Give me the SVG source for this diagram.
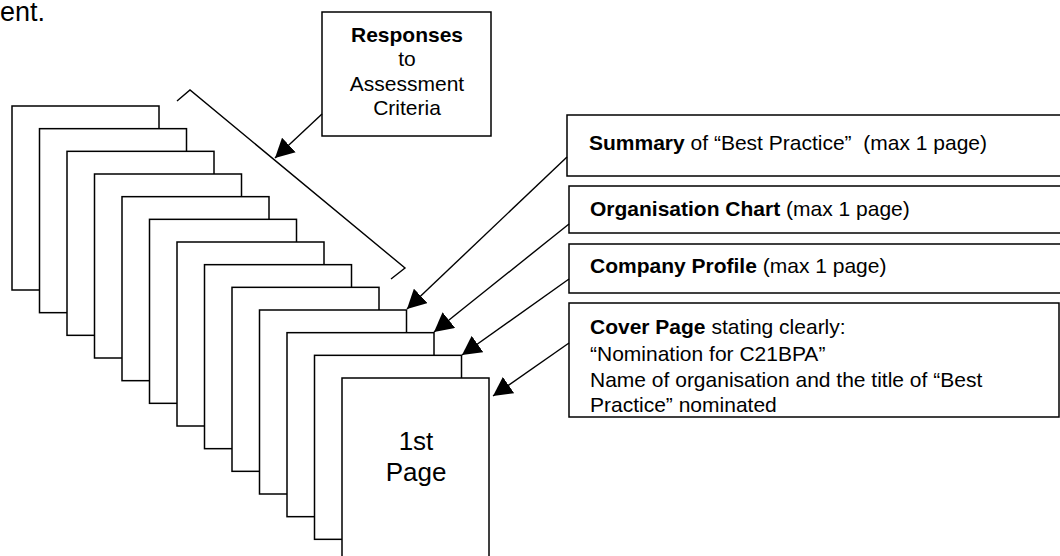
<svg xmlns="http://www.w3.org/2000/svg" width="1060" height="556" viewBox="0 0 1060 556">
<style>
text{font-family:"Liberation Sans",Arial,sans-serif;font-size:21px;fill:#000}
.b{font-weight:bold}
.pg{fill:#fff;stroke:#000;stroke-width:1.5}
.box{fill:#fff;stroke:#000;stroke-width:1.5}
.ln{fill:none;stroke:#000;stroke-width:1.4}
.ar{fill:none;stroke:#000;stroke-width:1.4;marker-end:url(#ah)}
</style>
<defs>
<marker id="ah" markerUnits="userSpaceOnUse" markerWidth="20" markerHeight="20" refX="19" refY="10" orient="auto" viewBox="0 0 20 20">
<path d="M0,0 L19,10 L0,20 z" fill="#000"/>
</marker>
</defs>
<rect width="1060" height="556" fill="#fff"/>
<text x="0" y="21" style="font-size:27px">ent.</text>
<g id="pages">
<rect class="pg" x="12" y="106" width="147" height="184"/>
<rect class="pg" x="39.5" y="128.67" width="147" height="184"/>
<rect class="pg" x="67" y="151.33" width="147" height="184"/>
<rect class="pg" x="94.5" y="174" width="147" height="184"/>
<rect class="pg" x="122" y="196.67" width="147" height="184"/>
<rect class="pg" x="149.5" y="219.33" width="147" height="184"/>
<rect class="pg" x="177" y="242" width="147" height="184"/>
<rect class="pg" x="204.5" y="264.67" width="147" height="184"/>
<rect class="pg" x="232" y="287.33" width="147" height="184"/>
<rect class="pg" x="259.5" y="310" width="147" height="184"/>
<rect class="pg" x="287" y="332.67" width="147" height="184"/>
<rect class="pg" x="314.5" y="355.33" width="147" height="184"/>
</g>
<g id="first-page">
<rect class="pg" x="342" y="378" width="147" height="184"/>
<text x="416" y="450" text-anchor="middle" style="font-size:26px">1st</text>
<text x="416" y="481" text-anchor="middle" style="font-size:26px">Page</text>
</g>
<g id="responses">
<rect class="box" x="322" y="12" width="169" height="124"/>
<text x="407" y="42" text-anchor="middle" class="b">Responses</text>
<text x="407" y="66" text-anchor="middle">to</text>
<text x="407" y="91" text-anchor="middle">Assessment</text>
<text x="407" y="115" text-anchor="middle">Criteria</text>
</g>
<g id="summary">
<rect class="box" x="567" y="115" width="500" height="61"/>
<text x="589" y="150" xml:space="preserve"><tspan class="b">Summary</tspan> of “Best Practice”  (max 1 page)</text>
</g>
<g id="org-chart">
<rect class="box" x="569" y="186" width="500" height="47"/>
<text x="590" y="216"><tspan class="b">Organisation Chart</tspan> (max 1 page)</text>
</g>
<g id="company-profile">
<rect class="box" x="569" y="244" width="500" height="49"/>
<text x="590" y="273"><tspan class="b">Company Profile</tspan> (max 1 page)</text>
</g>
<g id="cover-page">
<rect class="box" x="569" y="303" width="490" height="114"/>
<text x="590" y="334"><tspan class="b">Cover Page</tspan> stating clearly:</text>
<text x="590" y="361">“Nomination for C21BPA”</text>
<text x="590" y="387">Name of organisation and the title of “Best</text>
<text x="590" y="412">Practice” nominated</text>
</g>
<g id="connectors">
<polyline class="ln" points="177,101 190,90 405,268 391,279"/>
<line class="ar" x1="322" y1="114" x2="275" y2="158"/>
<line class="ar" x1="567" y1="157" x2="407" y2="309"/>
<line class="ar" x1="569" y1="224" x2="434" y2="332"/>
<line class="ar" x1="569" y1="279" x2="462" y2="355"/>
<line class="ar" x1="569" y1="343" x2="493" y2="396"/>
</g>
</svg>
